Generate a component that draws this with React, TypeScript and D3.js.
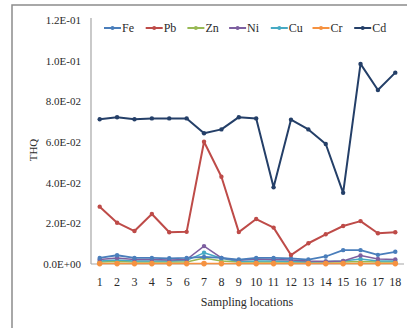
import * as d3 from 'd3';

const locations = ['1','2','3','4','5','6','7','8','9','10','11','12','13','14','15','16','17','18'];
const yTicks = [0, 0.02, 0.04, 0.06, 0.08, 0.1, 0.12];

const fe = [0.003, 0.0043, 0.003, 0.003, 0.0028, 0.003, 0.0035, 0.003, 0.0022, 0.003, 0.003, 0.0028, 0.0022, 0.0037, 0.0068, 0.0068, 0.0045, 0.006];
const pb = [0.0282, 0.0203, 0.0162, 0.0246, 0.0156, 0.0158, 0.0601, 0.0429, 0.0157, 0.0221, 0.0179, 0.0044, 0.0102, 0.0146, 0.0187, 0.0211, 0.0151, 0.0156];
const zn = [0.001, 0.0012, 0.001, 0.001, 0.001, 0.001, 0.003, 0.0015, 0.001, 0.001, 0.001, 0.001, 0.001, 0.001, 0.001, 0.0012, 0.001, 0.001];
const ni = [0.0022, 0.003, 0.0022, 0.0022, 0.002, 0.0022, 0.0088, 0.003, 0.0018, 0.0025, 0.0022, 0.002, 0.0015, 0.0012, 0.0015, 0.0042, 0.0025, 0.0022];
const cu = [0.0015, 0.002, 0.0015, 0.0015, 0.0015, 0.0018, 0.0055, 0.0028, 0.0012, 0.0015, 0.0015, 0.0012, 0.001, 0.0012, 0.0015, 0.0025, 0.0015, 0.0015];
const cr = [0.0002, 0.0002, 0.0002, 0.0002, 0.0002, 0.0002, 0.0002, 0.0002, 0.0002, 0.0002, 0.0002, 0.0002, 0.0002, 0.0002, 0.0002, 0.0002, 0.0002, 0.0002];
const cd = [0.0712, 0.0722, 0.0712, 0.0716, 0.0716, 0.0716, 0.0643, 0.0662, 0.0722, 0.0716, 0.0377, 0.071, 0.0662, 0.059, 0.035, 0.0984, 0.0856, 0.0941];

const series = [
  { name: 'Fe', values: fe, color: '#4a7ebb', width: 1.8, r: 2.2 },
  { name: 'Pb', values: pb, color: '#be4b48', width: 2, r: 2.2 },
  { name: 'Zn', values: zn, color: '#98b954', width: 1.5, r: 2.2 },
  { name: 'Ni', values: ni, color: '#7d5fa0', width: 1.5, r: 2.2 },
  { name: 'Cu', values: cu, color: '#46aac4', width: 1.5, r: 2.2 },
  { name: 'Cr', values: cr, color: '#f69240', width: 1.5, r: 2.8 },
  { name: 'Cd', values: cd, color: '#243f68', width: 2, r: 2.2 },
];

// draw order: low series first, Cr on top near the axis
const drawOrder = ['Zn', 'Cu', 'Ni', 'Fe', 'Cr', 'Pb', 'Cd'];

const W = 407;
const H = 328;
const font = '"Liberation Serif", "DejaVu Serif", serif';

export default function App() {
  const x = d3.scaleBand<string>().domain(locations).range([91, 404]).paddingInner(0);
  const y = d3.scaleLinear().domain([0, 0.12]).range([264, 20]);
  const cx = (d: string) => (x(d) || 0) + x.bandwidth() / 2;

  const line = (vals: number[]) =>
    d3.line<number>().x((_, i) => cx(locations[i])).y(v => y(v))(vals) || '';

  return (
    <svg width={W} height={H} style={{ position: 'absolute', left: 0, top: 0, background: '#fff' }} fontFamily={font}>
      <rect x={12} y={5} width={420} height={340} fill="#fff" stroke="#8c8c8c" strokeWidth={1.5} />

      {/* axes */}
      <line x1={91} x2={91} y1={18} y2={264} stroke="#a6a6a6" strokeWidth={1.2} />
      <line x1={91} x2={404} y1={264} y2={264} stroke="#a6a6a6" strokeWidth={1.2} />

      {yTicks.map(t => (
        <text key={t} x={81} y={y(t)} dy="0.35em" textAnchor="end" fontSize={11} fill="#2a2a2a">
          {t === 0 ? '0.0E+00' : d3.format('.1e')(t).replace('e-', 'E-0')}
        </text>
      ))}

      {locations.map(l => (
        <text key={l} x={cx(l)} y={282} dy="0.35em" textAnchor="middle" fontSize={12} fill="#2a2a2a">{l}</text>
      ))}

      <text x={247} y={302} dy="0.35em" textAnchor="middle" fontSize={12} fill="#2a2a2a">Sampling locations</text>
      <text transform="translate(33,150) rotate(-90)" textAnchor="middle" dy="0.35em" fontSize={11} fill="#2a2a2a">THQ</text>

      {drawOrder.map(n => {
        const s = series.find(d => d.name === n)!;
        return (
          <g key={n}>
            <path d={line(s.values)} fill="none" stroke={s.color} strokeWidth={s.width} strokeLinejoin="round" />
            {s.values.map((v, i) => (
              <circle key={i} cx={cx(locations[i])} cy={y(v)} r={s.r} fill={s.color} />
            ))}
          </g>
        );
      })}

      {/* legend */}
      {series.map((s, i) => {
        const lx = 104 + i * 41.7;
        return (
          <g key={s.name}>
            <line x1={lx} x2={lx + 17} y1={28} y2={28} stroke={s.color} strokeWidth={2} />
            <circle cx={lx + 8.5} cy={28} r={2} fill={s.color} />
            <text x={lx + 18} y={28} dy="0.35em" fontSize={12} fill="#2a2a2a">{s.name}</text>
          </g>
        );
      })}
    </svg>
  );
}
